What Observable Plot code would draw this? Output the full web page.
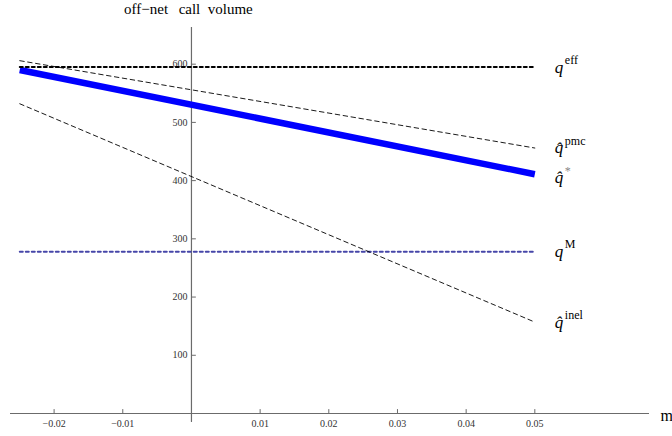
<!DOCTYPE html>
<html>
<head>
<meta charset="utf-8">
<script src="https://cdn.jsdelivr.net/npm/d3@7"></script>
<script src="https://cdn.jsdelivr.net/npm/@observablehq/plot@0.6"></script>
<style>
  html, body { margin: 0; padding: 0; background: #fff; }
  #chart svg, #chart svg text { font-family: "Liberation Serif", "Times New Roman", Times, serif; }
</style>
</head>
<body>
<div id="chart"></div>
<script>
// ---- data ----
const xEnds = [-0.025, 0.05];
const qEff = [595, 595];
const qM = [278, 278];
const qStar = [590, 411];
const qPmc = [606, 456];
const qInel = [532, 157];

const labelNames = ["eff", "pmc", "star", "M", "inel"];
const labelBase = ["q", "q\u0302", "q\u0302", "q", "q\u0302"];
const labelSup = ["eff", "pmc", "*", "M", "inel"];
const labelY = [595, 456, 405, 278, 157];

const xTicks = [-0.02, -0.01, 0.01, 0.02, 0.03, 0.04, 0.05];
const xTickLabels = ["\u22120.02", "\u22120.01", "0.01", "0.02", "0.03", "0.04", "0.05"];
const yTicks = [100, 200, 300, 400, 500, 600];
const yTickLabels = ["100", "200", "300", "400", "500", "600"];

const titleText = "off\u2212net\u2002\u2009call\u2002volume";
const xLabel = "m";

// ---- build ----
const series = (vals) => xEnds.map((x, i) => ({x, y: vals[i]}));
const labels = labelNames.map((n, i) => ({name: n, base: labelBase[i], sup: labelSup[i], y: labelY[i]}));

const tickShape = {draw(context, l) { context.moveTo(0, 0); context.lineTo(0, -l); }};
const axisColor = "#6b6b6b";
const serif = "Liberation Serif, Times New Roman, serif";

const plot = Plot.plot({
  width: 672,
  height: 436,
  marginLeft: 10,
  marginRight: 23,
  marginTop: 27,
  marginBottom: 23,
  style: {background: "#fff", overflow: "visible"},
  x: {domain: [-0.02635, 0.0667], axis: null},
  y: {domain: [0, 663], axis: null},
  marks: [
    // axes
    Plot.ruleY([0], {stroke: axisColor, strokeWidth: 1.2}),
    Plot.ruleX([0], {stroke: axisColor, strokeWidth: 1.2}),
    Plot.vector([0], {x: 0, y: 0, rotate: 180, length: 8, anchor: "start", shape: tickShape, stroke: axisColor, strokeWidth: 1.2}),
    Plot.vector(xTicks, {x: d => d, y: 0, rotate: 0, length: 4, anchor: "start", shape: tickShape, stroke: axisColor, strokeWidth: 1}),
    Plot.vector([0], {x: 0, y: 0, rotate: 90, length: 4, anchor: "start", shape: tickShape, stroke: axisColor, strokeWidth: 1}),
    Plot.vector(yTicks, {x: 0, y: d => d, rotate: 90, length: 4, anchor: "start", shape: tickShape, stroke: axisColor, strokeWidth: 1}),
    Plot.text(xTicks, {x: d => d, y: 0, dy: 10, text: (d, i) => xTickLabels[i], fontFamily: serif, fontSize: 10, fill: "#333", textAnchor: "middle"}),
    Plot.text(yTicks, {x: 0, y: d => d, dx: -4, text: (d, i) => yTickLabels[i], fontFamily: serif, fontSize: 10, fill: "#333", textAnchor: "end"}),
    Plot.text([titleText], {x: 0, frameAnchor: "top", dx: -3, dy: -24, text: d => d, fontFamily: serif, fontSize: 15, fill: "#000", textAnchor: "middle"}),
    Plot.text([xLabel], {frameAnchor: "right", y: 0, dx: 11, dy: 2, text: d => d, fontFamily: serif, fontSize: 16, fill: "#000", textAnchor: "start"}),

    // lines
    Plot.line(series(qM), {x: "x", y: "y", stroke: "#4646a8", strokeWidth: 2, strokeDasharray: "3,3"}),
    Plot.line(series(qInel), {x: "x", y: "y", stroke: "#000", strokeWidth: 0.9, strokeDasharray: "4.5,3.5"}),
    Plot.line(series(qPmc), {x: "x", y: "y", stroke: "#000", strokeWidth: 0.9, strokeDasharray: "4.5,3.5"}),
    Plot.line(series(qStar), {x: "x", y: "y", stroke: "#0000ff", strokeWidth: 6.5, strokeLinecap: "butt"}),
    Plot.line(series(qEff), {x: "x", y: "y", stroke: "#000", strokeWidth: 2, strokeDasharray: "3,3"}),

    // series labels
    Plot.text(labels, {x: 0.05, y: "y", dx: 20, text: "base", fontFamily: serif, fontSize: 17, fontStyle: "italic", fill: "#000", textAnchor: "start"}),
    Plot.text(labels, {x: 0.05, y: "y", dx: 30, dy: -7, text: "sup", fontFamily: serif, fontSize: 12, fill: d => d.name === "star" ? "#888" : "#000", fontStyle: d => d.name === "M" ? "italic" : "normal", textAnchor: "start"})
  ]
});

document.getElementById("chart").appendChild(plot);
</script>
</body>
</html>
